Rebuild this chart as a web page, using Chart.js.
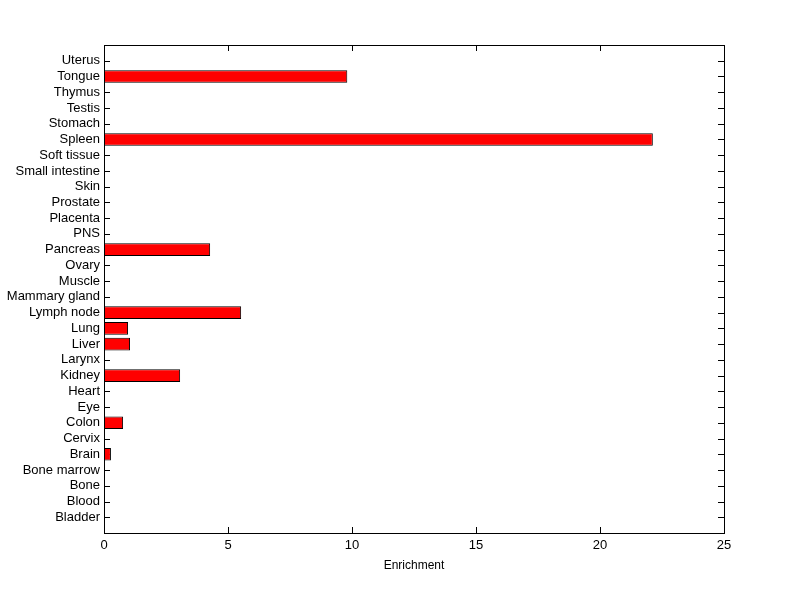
<!DOCTYPE html>
<html>
<head>
<meta charset="utf-8">
<script src="https://cdn.jsdelivr.net/npm/chart.js@4/dist/chart.umd.min.js"></script>
<style>
  html, body { margin: 0; padding: 0; background: #fff; }
  #wrap { width: 800px; height: 599px; }
</style>
</head>
<body>
<div id="wrap"><canvas id="barGraph1"></canvas></div>
<script>
// tissues, bottom to top
var tissues = ['Bladder', 'Blood', 'Bone', 'Bone marrow', 'Brain', 'Cervix', 'Colon', 'Eye', 'Heart', 'Kidney',
  'Larynx', 'Liver', 'Lung', 'Lymph node', 'Mammary gland', 'Muscle', 'Ovary', 'Pancreas', 'PNS', 'Placenta',
  'Prostate', 'Skin', 'Small intestine', 'Soft tissue', 'Spleen', 'Stomach', 'Testis', 'Thymus', 'Tongue', 'Uterus'];
var enrichment = [0, 0, 0, 0, 0.28, 0, 0.77, 0, 0, 3.07,
  0, 1.05, 0.97, 5.53, 0, 0, 0, 4.28, 0, 0,
  0, 0, 0, 0, 22.13, 0, 0, 0, 9.81, 0];
var xTicks = [0, 5, 10, 15, 20, 25];

var points = [];
for (var i in enrichment) {
  points.push({ x: enrichment[i], y: Number(i) + 1 });
}

var font = { family: 'Liberation Sans, Arial, sans-serif', size: 13 };

// matlab style box with inward ticks on every side
var boxPlugin = {
  id: 'box',
  beforeDatasetsDraw: function(chart) {
    var c = chart.ctx, a = chart.chartArea, sx = chart.scales.x, sy = chart.scales.y;
    c.save();
    c.strokeStyle = '#000';
    c.lineWidth = 1;
    c.beginPath();
    xTicks.forEach(function(t) {
      var px = Math.round(sx.getPixelForValue(t)) + 0.5;
      c.moveTo(px, a.bottom); c.lineTo(px, a.bottom - 6);
      c.moveTo(px, a.top); c.lineTo(px, a.top + 6);
    });
    tissues.forEach(function(t, k) {
      var py = Math.round(sy.getPixelForValue(k + 1)) + 0.5;
      c.moveTo(a.left, py); c.lineTo(a.left + 6, py);
      c.moveTo(a.right, py); c.lineTo(a.right - 6, py);
    });
    c.stroke();
    c.restore();
  },
  afterDatasetsDraw: function(chart) {
    var c = chart.ctx, a = chart.chartArea;
    c.save();
    c.strokeStyle = '#000';
    c.lineWidth = 1;
    c.strokeRect(Math.round(a.left) + 0.5, Math.round(a.top) + 0.5,
      Math.round(a.right - a.left), Math.round(a.bottom - a.top));
    c.restore();
  }
};

var ctx = document.getElementById('barGraph1');
var barGraph = new Chart(ctx, {
  type: 'bar',
  data: {
    datasets: [{
      data: points,
      backgroundColor: '#ff0000',
      borderColor: '#000000',
      borderWidth: 1,
      borderSkipped: false,
      barPercentage: 0.8,
      categoryPercentage: 1
    }]
  },
  options: {
    indexAxis: 'y',
    responsive: true,
    maintainAspectRatio: false,
    animation: false,
    events: [],
    layout: { padding: { left: 0, right: 76, top: 45, bottom: 24 } },
    plugins: { legend: { display: false }, tooltip: { enabled: false } },
    scales: {
      x: {
        type: 'linear',
        min: 0,
        max: 25,
        grid: { display: false, drawTicks: false },
        border: { display: false },
        ticks: { stepSize: 5, color: '#000', font: font, padding: 5 },
        title: { display: true, text: 'Enrichment', color: '#000', font: { family: font.family, size: 12 }, padding: { top: 2, bottom: 2 } },
        afterFit: function(s) { s.height = 42; }
      },
      y: {
        type: 'linear',
        offset: false,
        min: 0,
        max: 31,
        grid: { display: false, drawTicks: false },
        border: { display: false },
        ticks: {
          stepSize: 1,
          autoSkip: false,
          color: '#000',
          font: font,
          padding: 4,
          callback: function(v) { return tissues[v - 1] || ''; }
        },
        afterFit: function(s) { s.width = 104; }
      }
    }
  },
  plugins: [boxPlugin]
});
</script>
</body>
</html>
